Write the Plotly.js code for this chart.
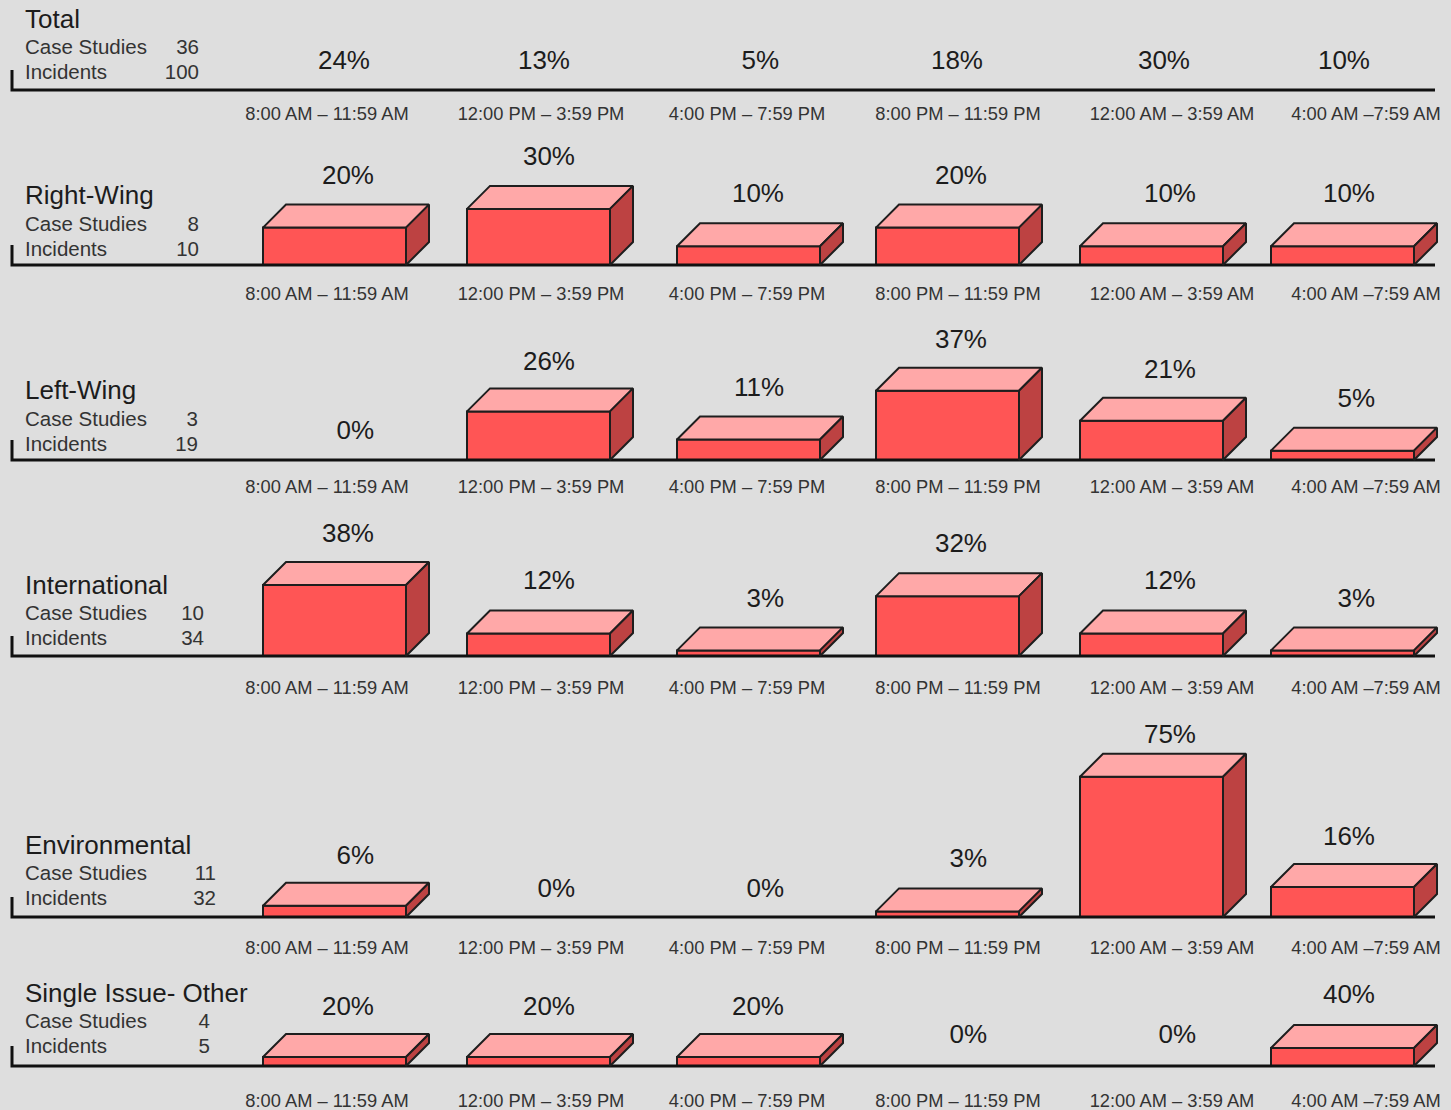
<!DOCTYPE html>
<html>
<head>
<meta charset="utf-8">
<script src="https://cdn.plot.ly/plotly-3.0.1.min.js"></script>
<style>html,body{margin:0;padding:0;background:#dedede;overflow:hidden}</style>
</head>
<body>
<div id="chart" style="width:1451px;height:1110px"></div>
<script>
// ---- data ----
const groups = ["Total", "Right-Wing", "Left-Wing", "International", "Environmental", "Single Issue- Other"];
const caseStudies = [36, 8, 3, 10, 11, 4];
const incidents = [100, 10, 19, 34, 32, 5];
const timeBands = ["8:00 AM – 11:59 AM", "12:00 PM – 3:59 PM", "4:00 PM – 7:59 PM", "8:00 PM – 11:59 PM", "12:00 AM – 3:59 AM", "4:00 AM –7:59 AM"];
const totalPct = [24, 13, 5, 18, 30, 10];
const rightWingPct = [20, 30, 10, 20, 10, 10];
const leftWingPct = [0, 26, 11, 37, 21, 5];
const internationalPct = [38, 12, 3, 32, 12, 3];
const environmentalPct = [6, 0, 0, 3, 75, 16];
const singleIssuePct = [20, 20, 20, 0, 0, 40];
const seriesPct = [totalPct, rightWingPct, leftWingPct, internationalPct, environmentalPct, singleIssuePct];

// ---- layout constants (pixels) ----
const W = 1451, H = 1110;
const baselines = [90, 265, 460, 656, 917, 1066];
const pad = 4;
const pxPerUnit = [1.87, 1.87, 1.87, 1.87, 1.87, 0.45];
const drawBars = [false, true, true, true, true, true];
const barLeft = [263, 467, 677, 876, 1080, 1271];
const barWidth = 143, depth = 23;
const tickCentres = [327, 541, 747, 958, 1172, 1366];
const labelRight = [[370, 570, 779, 983, 1190, 1370], [374, 575, 784, 987, 1196, 1375], [374, 575, 784, 987, 1196, 1375], [374, 575, 784, 987, 1196, 1375], [374, 575, 784, 987, 1196, 1375], [374, 575, 784, 987, 1196, 1375]];
const labelRise = [[28, 28, 28, 28, 28, 28], [27, 27, 28, 27, 28, 28], [28, 25, 27, 26, 26, 27], [26, 28, 27, 28, 28, 27], [25, 27, 27, 28, 17, 26], [26, 26, 26, 30, 30, 29]];
const countRight = [199, 199, 198, 204, 216, 210];
const nameRise = [69, 68, 68, 69, 70, 71];
const caseRise = [41, 39, 39, 41, 42, 43];
const incRise = [16, 14, 14, 16, 17, 18];
const tickGap = [3, 8, 6, 11, 10, 14];
const FONT = "Liberation Sans, Arial, sans-serif";
const INK = "#1c1c1c", FRONT = "#ff5555", TOP = "#ffa8a8", SIDE = "#bd4242", EDGE = "#1e1e1e";

const traces = [];
const layout = {
  width: W, height: H, margin: {l: 0, r: 0, t: 0, b: 0},
  paper_bgcolor: "#dedede", plot_bgcolor: "rgba(0,0,0,0)",
  showlegend: false, barmode: "overlay", hovermode: false
};

groups.forEach((name, p) => {
  const s = p === 0 ? "" : String(p + 1);
  const xa = "x" + s, ya = "y" + s;
  const k = pxPerUnit[p], base = baselines[p];
  const top = p === 0 ? 0 : baselines[p - 1];
  const u = px => px / k;
  const values = seriesPct[p];

  layout["xaxis" + s] = {
    domain: [0, 1], range: [0, W], anchor: ya, fixedrange: true,
    showgrid: false, zeroline: false, showline: false,
    tickmode: "array", tickvals: tickCentres, ticktext: timeBands,
    ticks: "outside", ticklen: tickGap[p], tickwidth: 0, tickcolor: "rgba(0,0,0,0)",
    tickfont: {family: FONT, size: 18.3, color: "#333"}
  };
  layout["yaxis" + s] = {
    domain: [1 - (base + pad) / H, 1 - top / H], range: [-u(pad), u(base - top)], anchor: xa, fixedrange: true,
    visible: false, showgrid: false, zeroline: false
  };

  // baseline with its left end tick
  traces.push({type: "scatter", mode: "lines", xaxis: xa, yaxis: ya, x: [12, 12, 1435], y: [u(20), 0, 0],
    line: {color: "#111", width: 3}, cliponaxis: false, hoverinfo: "skip"});

  if (drawBars[p]) {
    const shown = values.map((v, i) => i).filter(i => values[i] > 0);
    traces.push({type: "bar", xaxis: xa, yaxis: ya, x: shown.map(i => barLeft[i] + barWidth / 2),
      y: shown.map(i => values[i]), width: barWidth, hoverinfo: "skip", cliponaxis: false,
      marker: {color: FRONT, line: {color: EDGE, width: 2}}});
    const tx = [], ty = [], sx = [], sy = [];
    shown.forEach(i => {
      const l = barLeft[i], r = l + barWidth, v = values[i], D = u(depth);
      tx.push(l, l + depth, r + depth, r, l, null);
      ty.push(v, v + D, v + D, v, v, null);
      sx.push(r, r + depth, r + depth, r, r, null);
      sy.push(v, v + D, D, 0, v, null);
    });
    traces.push({type: "scatter", mode: "lines", xaxis: xa, yaxis: ya, x: tx, y: ty, fill: "toself",
      fillcolor: TOP, line: {color: EDGE, width: 2}, cliponaxis: false, hoverinfo: "skip"});
    traces.push({type: "scatter", mode: "lines", xaxis: xa, yaxis: ya, x: sx, y: sy, fill: "toself",
      fillcolor: SIDE, line: {color: EDGE, width: 2}, cliponaxis: false, hoverinfo: "skip"});
  }

  // percentage labels
  traces.push({type: "scatter", mode: "text", xaxis: xa, yaxis: ya, x: labelRight[p],
    y: values.map((v, i) => (drawBars[p] && v > 0 ? v + u(depth) : 0) + u(labelRise[p][i])),
    text: values.map(v => v + "%"), textposition: "middle left", cliponaxis: false, hoverinfo: "skip",
    textfont: {family: FONT, size: 26, color: INK}});

  // group title and counts
  traces.push({type: "scatter", mode: "text", xaxis: xa, yaxis: ya, x: [25], y: [u(nameRise[p])],
    text: [name], textposition: "middle right", cliponaxis: false, hoverinfo: "skip",
    textfont: {family: FONT, size: 26, color: INK}});
  traces.push({type: "scatter", mode: "text", xaxis: xa, yaxis: ya, x: [25, 25], y: [u(caseRise[p]), u(incRise[p])],
    text: ["Case Studies", "Incidents"], textposition: "middle right", cliponaxis: false, hoverinfo: "skip",
    textfont: {family: FONT, size: 20.5, color: "#333"}});
  traces.push({type: "scatter", mode: "text", xaxis: xa, yaxis: ya, x: [countRight[p], countRight[p]], y: [u(caseRise[p]), u(incRise[p])],
    text: [String(caseStudies[p]), String(incidents[p])], textposition: "middle left", cliponaxis: false, hoverinfo: "skip",
    textfont: {family: FONT, size: 20.5, color: "#333"}});
});

Plotly.newPlot("chart", traces, layout, {displayModeBar: false, staticPlot: true});
</script>
</body>
</html>
